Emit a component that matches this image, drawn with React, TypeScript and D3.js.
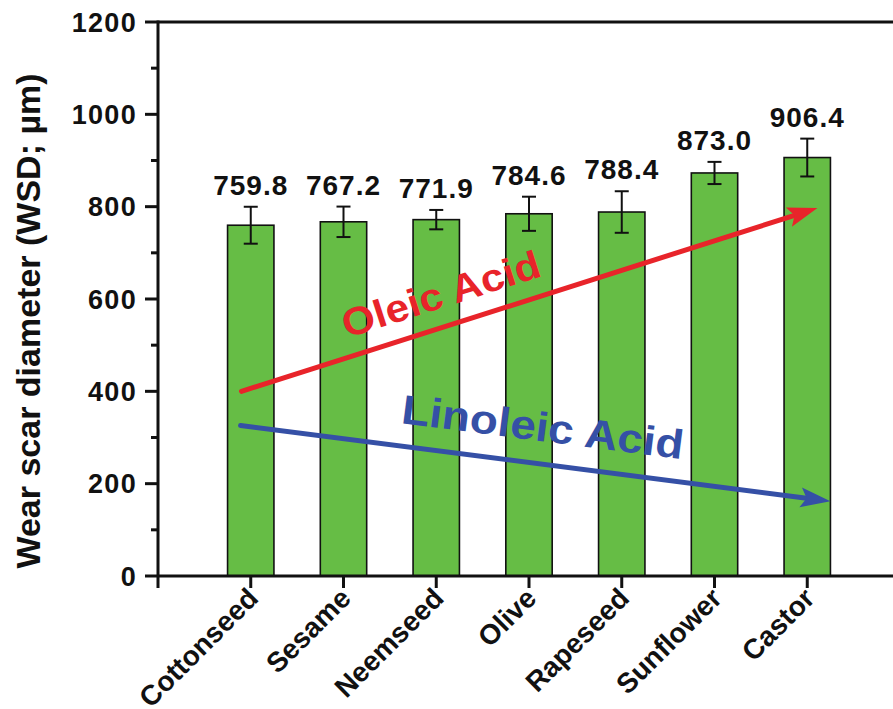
import React from "react";
import * as d3 from "d3";

const categories = ["Cottonseed", "Sesame", "Neemseed", "Olive", "Rapeseed", "Sunflower", "Castor"];
const values = [759.8, 767.2, 771.9, 784.6, 788.4, 873.0, 906.4];
const errors = [40, 33, 21, 37, 45, 24, 41];
const yTicks = [0, 200, 400, 600, 800, 1000, 1200];
const yMinorTicks = [100, 300, 500, 700, 900, 1100];
const trendLabels = ["Oleic Acid", "Linoleic Acid"];
const trendFrom = [[0.9, 400], [0.89, 326]];
const trendTo = [[7.11, 797], [7.25, 162]];
const trendColors = ["#e8242a", "#3550a6"];

const W = 893, H = 709;
const FONT = "Arial, 'Liberation Sans', Helvetica, sans-serif";

export default function App() {
  const x = d3.scalePoint<string>().domain(categories).range([158, 900]).padding(1);
  const step = x.step();
  const xi = d3.scaleLinear().domain([0, 8]).range([158, 158 + 8 * step]);
  const y = d3.scaleLinear().domain([0, 1200]).range([576, 22]);
  const bw = step * 0.5;

  const arrow = (i: number) => {
    const [x0, y0] = [xi(trendFrom[i][0]), y(trendFrom[i][1])];
    const [x1, y1] = [xi(trendTo[i][0]), y(trendTo[i][1])];
    const ang = Math.atan2(y1 - y0, x1 - x0);
    const len = 30, hw = 10;
    const bx = x1 - len * Math.cos(ang), by = y1 - len * Math.sin(ang);
    const nx = -Math.sin(ang), ny = Math.cos(ang);
    const nbx = x1 - (len - 6) * Math.cos(ang), nby = y1 - (len - 6) * Math.sin(ang);
    const head = `M${x1},${y1} L${bx + nx * hw},${by + ny * hw} L${nbx},${nby} L${bx - nx * hw},${by - ny * hw} Z`;
    return (
      <g key={i}>
        <line x1={x0} y1={y0} x2={nbx} y2={nby} stroke={trendColors[i]} strokeWidth={5} strokeLinecap="round" />
        <path d={head} fill={trendColors[i]} />
      </g>
    );
  };

  const textAng = (i: number) => {
    const [x0, y0] = [xi(trendFrom[i][0]), y(trendFrom[i][1])];
    const [x1, y1] = [xi(trendTo[i][0]), y(trendTo[i][1])];
    return (Math.atan2(y1 - y0, x1 - x0) * 180) / Math.PI;
  };

  return (
    <svg width={W} height={H} style={{ position: "absolute", left: 0, top: 0, background: "#fff" }} fontFamily={FONT}>
      {categories.map((c, i) => {
        const cx = x(c)!;
        return (
          <rect key={c} x={cx - bw / 2} y={y(values[i])} width={bw} height={y(0) - y(values[i])} fill="#66bd45" stroke="#111" strokeWidth={1.6} />
        );
      })}
      {arrow(0)}
      {arrow(1)}
      <text
        transform={`translate(445,307) rotate(${textAng(0)})`}
        textAnchor="middle"
        fontSize={39}
        fontWeight="bold"
        fill={trendColors[0]}
        textLength={206}
        lengthAdjust="spacingAndGlyphs"
      >
        {trendLabels[0]}
      </text>
      <text
        transform={`translate(541,441) rotate(${textAng(1)})`}
        textAnchor="middle"
        fontSize={41}
        fontWeight="bold"
        fill={trendColors[1]}
        textLength={284}
        lengthAdjust="spacingAndGlyphs"
      >
        {trendLabels[1]}
      </text>
      {categories.map((c, i) => {
        const cx = x(c)!;
        const t = y(values[i] + errors[i]);
        const b = y(values[i] - errors[i]);
        return (
          <g key={"e" + c}>
            <line x1={cx} x2={cx} y1={t} y2={b} stroke="#111" strokeWidth={2} />
            <line x1={cx - 7} x2={cx + 7} y1={t} y2={t} stroke="#111" strokeWidth={2} />
            <line x1={cx - 7} x2={cx + 7} y1={b} y2={b} stroke="#111" strokeWidth={2} />
            <text x={cx} y={t - 12} textAnchor="middle" fontSize={28} fontWeight="bold" fill="#111" letterSpacing={1}>
              {values[i].toFixed(1)}
            </text>
          </g>
        );
      })}
      <line x1={158} x2={W} y1={y(1200)} y2={y(1200)} stroke="#111" strokeWidth={3} />
      <line x1={158} x2={W} y1={y(0)} y2={y(0)} stroke="#111" strokeWidth={3} />
      <line x1={158} x2={158} y1={y(1200) - 1.5} y2={y(0) + 12} stroke="#111" strokeWidth={3} />
      {yTicks.map((t) => (
        <g key={"yt" + t}>
          <line x1={145} x2={158} y1={y(t)} y2={y(t)} stroke="#111" strokeWidth={3} />
          <text x={137} y={y(t)} dy="0.36em" textAnchor="end" fontSize={27} fontWeight="bold" fill="#111" letterSpacing={1.3}>
            {t}
          </text>
        </g>
      ))}
      {yMinorTicks.map((t) => (
        <line key={"ym" + t} x1={151} x2={158} y1={y(t)} y2={y(t)} stroke="#111" strokeWidth={3} />
      ))}
      {categories.map((c) => {
        const cx = x(c)!;
        return (
          <g key={"xt" + c}>
            <line x1={cx} x2={cx} y1={y(0)} y2={y(0) + 12} stroke="#111" strokeWidth={3} />
            <text
              transform={`translate(${cx + 9},${y(0) + 24}) rotate(-45)`}
              textAnchor="end"
              fontSize={28}
              fontWeight="bold"
              fill="#111"
            >
              {c}
            </text>
          </g>
        );
      })}
      <text
        transform={`translate(40,321) rotate(-90)`}
        textAnchor="middle"
        fontSize={34}
        fontWeight="bold"
        fill="#111"
      >
        Wear scar diameter (WSD; µm)
      </text>
    </svg>
  );
}
